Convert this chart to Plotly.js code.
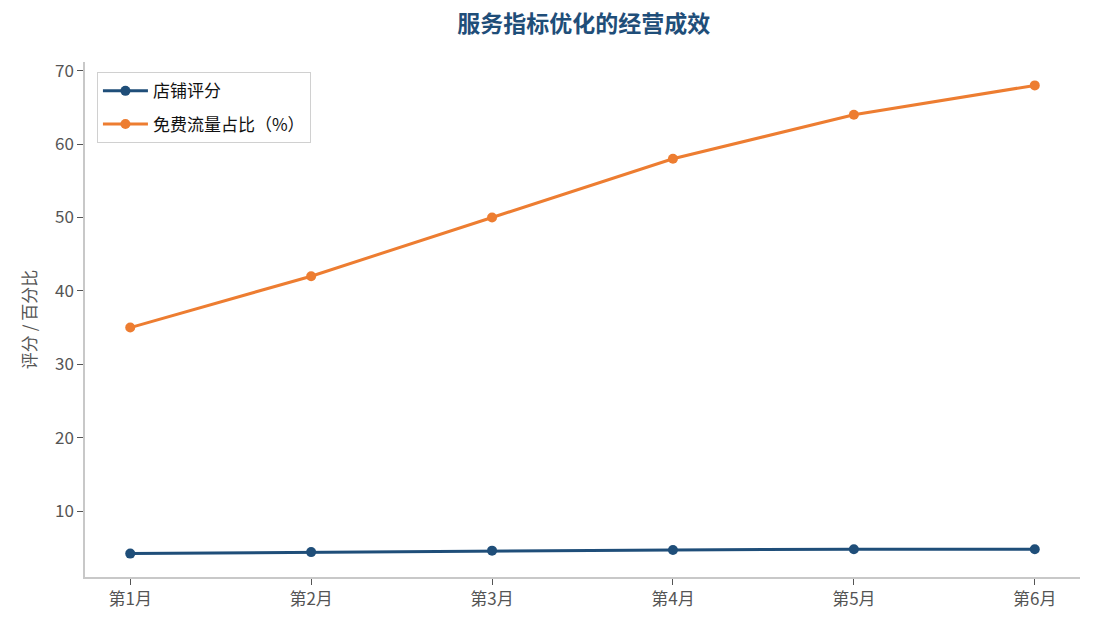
<!DOCTYPE html>
<html>
<head>
<meta charset="utf-8">
<script src="https://cdn.plot.ly/plotly-3.0.1.min.js"></script>
<style>body{margin:0}#chart{width:1095px;height:630px}</style>
</head>
<body>
<div id="chart"></div>
<script>
// 月份与两条指标
let months = ['第1月', '第2月', '第3月', '第4月', '第5月', '第6月']
let shopScore = [4.2, 4.4, 4.6, 4.7, 4.8, 4.8]
let freeTraffic = [35, 42, 50, 58, 64, 68]

let idx = months.map((m, i) => i)

let trace1 = {
  x: idx,
  y: shopScore,
  mode: 'lines+markers',
  name: '店铺评分',
  legendgroup: 'a',
  line: {color: '#1f4e79', width: 3},
  marker: {color: '#1f4e79', size: 10}
},
trace2 = {
  x: idx,
  y: freeTraffic,
  mode: 'lines+markers',
  name: '免费流量占比（%）',
  legendgroup: 'b',
  line: {color: '#ed7d31', width: 3},
  marker: {color: '#ed7d31', size: 10}
}

let layout = {
  width: 1095,
  height: 630,
  margin: {l: 85, r: 15, t: 62, b: 53},
  paper_bgcolor: 'white',
  plot_bgcolor: 'white',
  font: {family: '"Noto Sans CJK SC", "Noto Sans", sans-serif', size: 17, color: '#555'},
  title: {
    text: '<b>服务指标优化的经营成效</b>',
    font: {size: 23, color: '#1f4e79'},
    x: 0.533, xanchor: 'center', y: 0.975, yanchor: 'top'
  },
  xaxis: {
    range: [-0.25, 5.25],
    tickmode: 'array',
    tickvals: idx,
    ticktext: months,
    showgrid: false,
    zeroline: false,
    showline: true,
    linecolor: '#c8c8c8',
    linewidth: 1.5,
    ticks: 'outside',
    ticklen: 6,
    tickcolor: '#555',
    tickfont: {size: 17, color: '#555'}
  },
  yaxis: {
    range: [1.01, 71.19],
    tickvals: [10, 20, 30, 40, 50, 60, 70],
    showgrid: false,
    zeroline: false,
    showline: true,
    linecolor: '#c8c8c8',
    linewidth: 1.5,
    ticks: 'outside',
    ticklen: 6,
    tickcolor: '#555',
    tickfont: {size: 17, color: '#555'},
    title: {text: '评分 / 百分比', font: {size: 17, color: '#555'}, standoff: 14}
  },
  legend: {
    x: 0.012, y: 0.98, xanchor: 'left', yanchor: 'top',
    bgcolor: 'rgba(255,255,255,0.9)',
    bordercolor: '#d0d0d0',
    borderwidth: 1,
    itemwidth: 45,
    tracegroupgap: 8,
    traceorder: 'grouped',
    font: {size: 17, color: '#111'}
  },
  showlegend: true
}

Plotly.newPlot('chart', [trace1, trace2], layout, {displayModeBar: false})
</script>
</body>
</html>
